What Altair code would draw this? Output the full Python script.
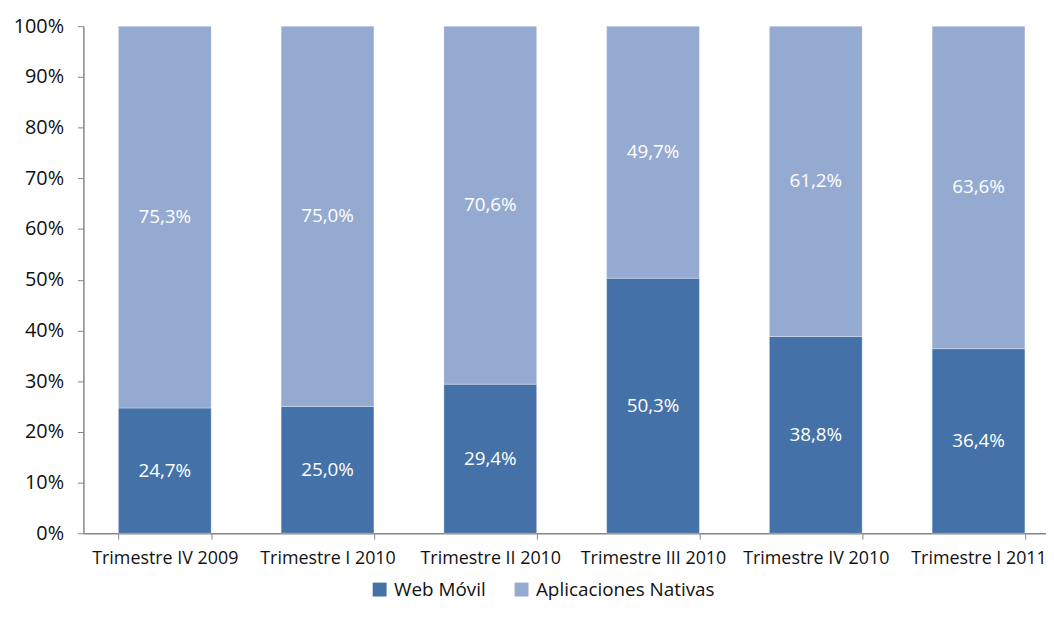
import altair as alt
import pandas as pd

categories = ["Trimestre IV 2009", "Trimestre I 2010", "Trimestre II 2010",
              "Trimestre III 2010", "Trimestre IV 2010", "Trimestre I 2011"]
web_movil = [24.7, 25.0, 29.4, 50.3, 38.8, 36.4]
aplicaciones = [75.3, 75.0, 70.6, 49.7, 61.2, 63.6]
series = ["Web Móvil", "Aplicaciones Nativas"]
colors = ["#4472A8", "#95AAD1"]

rows = []
for c, w, a in zip(categories, web_movil, aplicaciones):
    rows.append({"cat": c, "serie": series[0], "value": w, "ord": 0})
    rows.append({"cat": c, "serie": series[1], "value": a, "ord": 1})
df = pd.DataFrame(rows)

FONT = "Open Sans"

base = alt.Chart(df)

bars = base.mark_bar(stroke="#ffffff", strokeWidth=0.6, strokeOpacity=0.5).encode(
    x=alt.X("cat:N", sort=categories, title=None,
            scale=alt.Scale(paddingInner=0.43, paddingOuter=0.215, range=[0, 984]),
            axis=alt.Axis(labelAngle=0, tickBand="extent", labelPadding=10,
                          tickSize=6, domainColor="#868686", tickColor="#868686",
                          labelFontSize=18, labelColor="#111111", labelFont=FONT,
                          labelLimit=300)),
    y=alt.Y("value:Q", stack="zero", title=None,
            scale=alt.Scale(domain=[0, 100]),
            axis=alt.Axis(values=list(range(0, 101, 10)), labelExpr="datum.value + '%'",
                          grid=False, tickSize=6, labelPadding=14,
                          domainColor="#868686", tickColor="#868686",
                          labelFontSize=20, labelColor="#111111", labelFont=FONT)),
    color=alt.Color("serie:N", sort=series,
                    scale=alt.Scale(domain=series, range=colors),
                    legend=alt.Legend(title=None, orient="none", direction="horizontal",
                                      legendX=289, legendY=558, symbolType="square",
                                      symbolSize=196, symbolStrokeWidth=0,
                                      labelFontSize=19, labelFont=FONT, labelColor="#111111",
                                      labelLimit=400, columnPadding=26, labelOffset=5)),
    order=alt.Order("ord:Q"),
)

labels = base.transform_window(
    cum="sum(value)", groupby=["cat"], sort=[alt.SortField("ord")]
).transform_calculate(
    mid="datum.cum - datum.value / 2",
    txt="replace(format(datum.value, '.1f'), '.', ',') + '%'"
).mark_text(color="white", fontSize=19, font=FONT).encode(
    x=alt.X("cat:N", sort=categories),
    y=alt.Y("mid:Q"),
    text="txt:N",
)

chart = alt.layer(bars, labels).properties(
    width=970, height=511,
    autosize=alt.AutoSizeParams(type="none"),
    padding={"left": 76, "top": 16, "right": 0, "bottom": 70},
).configure_view(stroke=None).configure_axis(domainWidth=1.5)

chart.save("out.html", embed_options={"renderer": "svg", "actions": False})
